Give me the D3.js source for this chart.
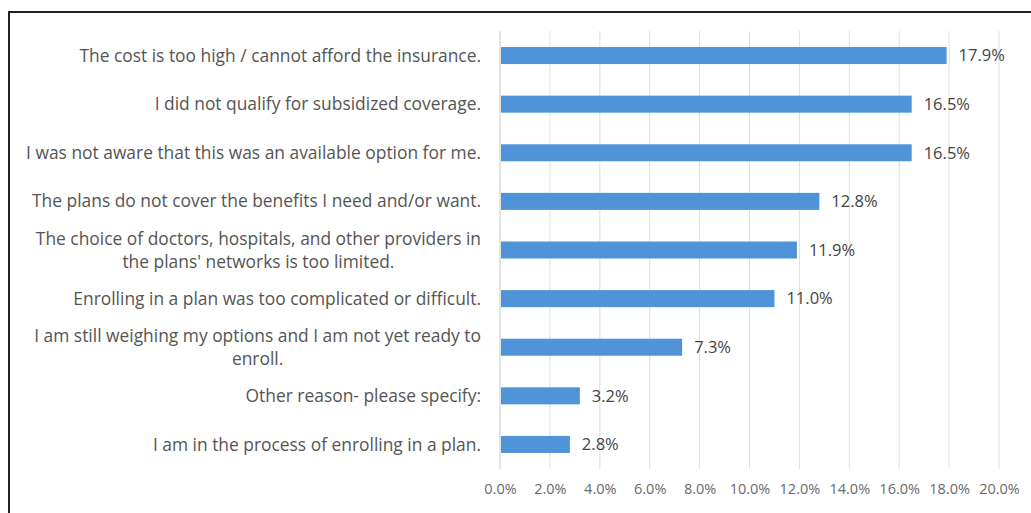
<!DOCTYPE html>
<html>
<head>
<meta charset="utf-8">
<script src="https://cdn.jsdelivr.net/npm/d3@7"></script>
<style>
  body { margin: 0; background: #fff; }
  svg { display: block; }
</style>
</head>
<body>
<svg width="1031" height="513"></svg>
<script>
// reasons, top to bottom
var reasons = [
  "The cost is too high / cannot afford the insurance.",
  "I did not qualify for subsidized coverage.",
  "I was not aware that this was an available option for me.",
  "The plans do not cover the benefits I need and/or want.",
  "The choice of doctors, hospitals, and other providers in|the plans' networks is too limited.",
  "Enrolling in a plan was too complicated or difficult.",
  "I am still weighing my options and I am not yet ready to|enroll.",
  "Other reason- please specify:",
  "I am in the process of enrolling in a plan."
];
var shares = [17.9, 16.5, 16.5, 12.8, 11.9, 11.0, 7.3, 3.2, 2.8];
var ticks = [0, 2, 4, 6, 8, 10, 12, 14, 16, 18, 20];

var svg = d3.select("svg"),
    plotLeft = 500, plotRight = 999, plotTop = 31, plotBottom = 469,
    font = "'Open Sans', Lato, sans-serif";

// frame of the scanned figure
svg.append("path")
    .attr("d", "M9,513 V12 H1031")
    .attr("fill", "none")
    .attr("stroke", "#222")
    .attr("stroke-width", 2);

var x = d3.scaleLinear().domain([0, 20]).range([plotLeft, plotRight]);
var y = d3.scaleBand().domain(d3.range(reasons.length)).range([plotTop, plotBottom]).paddingInner(0.65).paddingOuter(0.33);

var g = svg.append("g");

g.selectAll("line.grid")
  .data(ticks)
  .enter().append("line")
    .attr("class", "grid")
    .attr("x1", function(d) { return x(d); })
    .attr("x2", function(d) { return x(d); })
    .attr("y1", plotTop)
    .attr("y2", plotBottom)
    .attr("stroke", function(d) { return d == 0 ? "#c8c8c8" : "#dedede"; })
    .attr("stroke-width", 1);

var xAxis = d3.axisBottom(x)
    .tickValues(ticks)
    .tickSize(0)
    .tickPadding(0)
    .tickFormat(function(d) { return d.toFixed(1) + "%"; });

var ax = svg.append("g")
    .attr("transform", "translate(0," + 484 + ")")
    .call(xAxis);
ax.select(".domain").remove();
ax.selectAll("text")
    .attr("fill", "#6a6a6a")
    .style("font-family", font)
    .style("font-size", "14.5px")
    .attr("dy", "0.71em");

g.selectAll("rect.bar")
  .data(shares)
  .enter().append("rect")
    .attr("class", "bar")
    .attr("x", x(0) + 1)
    .attr("y", function(d, i) { return y(i); })
    .attr("width", function(d) { return x(d) - x(0) - 1; })
    .attr("height", y.bandwidth())
    .attr("fill", "#4f93d8");

g.selectAll("text.value")
  .data(shares)
  .enter().append("text")
    .attr("class", "value")
    .attr("x", function(d) { return x(d) + 12; })
    .attr("y", function(d, i) { return y(i) + y.bandwidth() / 2; })
    .attr("dy", "0.35em")
    .attr("fill", "#444")
    .style("font-family", font)
    .style("font-size", "16.5px")
    .text(function(d) { return d.toFixed(1) + "%"; });

// category labels, wrapped lines centred on each other, block right aligned
var labelRight = 481, lineH = 23;
reasons.forEach(function(r, i) {
  var lines = r.split("|");
  var cy = y(i) + y.bandwidth() / 2;
  var t = g.append("text")
      .attr("fill", "#555")
      .style("font-family", font)
      .style("font-size", "17.4px");
  var spans = lines.map(function(l, k) {
    return t.append("tspan")
        .attr("y", cy + (k - (lines.length - 1) / 2) * lineH)
        .attr("dy", "0.35em")
        .text(l);
  });
  var w = d3.max(spans, function(s) { return s.node().getComputedTextLength(); });
  t.attr("text-anchor", "middle");
  spans.forEach(function(s) { s.attr("x", labelRight - w / 2); });
});
</script>
</body>
</html>
